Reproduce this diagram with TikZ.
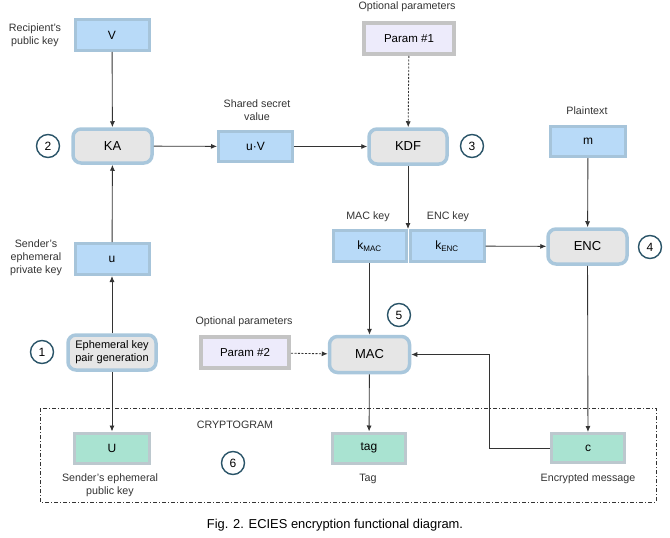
\documentclass[tikz,border=0pt]{standalone}
\usepackage{fontspec}
\setmainfont{Liberation Sans}
\usetikzlibrary{arrows.meta}
\definecolor{bluefill}{HTML}{B8DAF8}
\definecolor{blueborder}{HTML}{A6C4DA}
\definecolor{procfill}{HTML}{E6E6E6}
\definecolor{procborder}{HTML}{A9C7DC}
\definecolor{greenfill}{HTML}{A9E3D1}
\definecolor{greenborder}{HTML}{BCC8CE}
\definecolor{paramfill}{HTML}{EDEBFB}
\definecolor{paramborder}{HTML}{C4C4C4}
\definecolor{numcol}{HTML}{2A5468}
\definecolor{linecol}{HTML}{333333}
\definecolor{txtcol}{HTML}{333333}
\tikzset{
  bluebox/.style={draw=blueborder,fill=bluefill,line width=3pt,minimum width=74pt,minimum height=31pt,inner sep=0pt,font=\fontsize{12}{14}\selectfont},
  procbox/.style={draw=procborder,fill=procfill,line width=3.5pt,rounded corners=8pt,inner sep=0pt,font=\fontsize{13}{15}\selectfont,align=center},
  greenbox/.style={draw=greenborder,fill=greenfill,line width=3pt,minimum width=73pt,minimum height=30pt,inner sep=0pt,font=\fontsize{12}{14}\selectfont},
  parambox/.style={draw=paramborder,fill=paramfill,line width=4pt,minimum width=88pt,minimum height=31pt,inner sep=0pt,font=\fontsize{11.5}{14}\selectfont},
  numc/.style={circle,draw=numcol,line width=1.4pt,fill=white,minimum size=23pt,inner sep=0pt,font=\fontsize{12}{14}\selectfont},
  lbl/.style={align=center,text=txtcol,inner sep=0pt,font=\fontsize{10.7}{13}\selectfont},
  conn/.style={draw=linecol,line width=0.85pt,-{Latex[length=6pt,width=5pt]}},
}
\begin{document}
\begin{tikzpicture}[x=1pt,y=-1pt]
\useasboundingbox (0,0) rectangle (670,538);
% frame
\draw[linecol,line width=0.8pt,dash pattern=on 4pt off 2pt on 1pt off 2pt] (40,408) rectangle (656,502);
% nodes
\node[bluebox] (V) at (112,35) {V};
\node[procbox,minimum width=79pt,minimum height=34pt] (KA) at (112.5,146) {KA};
\node[bluebox,minimum height=30pt] (uV) at (255.5,146.5) {u·V};
\node[bluebox] (u) at (112,259) {u};
\node[procbox,minimum width=78pt,minimum height=35pt] (KDF) at (408,146.5) {KDF};
\node[parambox,minimum width=90pt] (P1) at (409,38.5) {Param \#1};
\node[bluebox,minimum width=75pt,minimum height=30pt] (m) at (588,141.5) {m};
\node[bluebox,minimum width=73pt] (kMAC) at (369.5,246) {k\textsubscript{MAC}};
\node[bluebox,minimum width=74pt] (kENC) at (447,246) {k\textsubscript{ENC}};
\node[procbox,minimum width=79pt,minimum height=35pt] (ENC) at (587.5,246.5) {ENC};
\node[procbox,minimum width=80pt,minimum height=36pt] (MAC) at (369.5,354.5) {MAC};
\node[greenbox] (tag) at (369,448) {tag};
\node[greenbox,minimum height=29pt] (c) at (588,448) {c};
\node[parambox] (P2) at (245,352.5) {Param \#2};
\node[procbox,minimum width=88pt,minimum height=35pt,font=\fontsize{11}{12.7}\selectfont] (Eph) at (112,352.5) {Ephemeral key\\pair generation};
\node[greenbox,minimum width=75pt] (U) at (112,448) {U};
% numbers
\node[numc] (n2) at (48,146) {2};
\node[numc] (n3) at (472,146) {3};
\node[numc] (n4) at (650,247) {4};
\node[numc] (n5) at (399,315) {5};
\node[numc] (n1) at (42,352) {1};
\node[numc] (n6) at (233,463) {6};
% labels
\node[lbl] (l1) at (35,35) {Recipient's\\public key};
\node[lbl] (l2) at (257,110) {Shared secret\\value};
\node[lbl] (l3) at (36,258) {Sender's\\ephemeral\\private key};
\node[lbl] (l4) at (407,7) {Optional parameters};
\node[lbl] (l5) at (587,111) {Plaintext};
\node[lbl] (l6) at (368,217) {MAC key};
\node[lbl] (l7) at (448,217) {ENC key};
\node[lbl] (l8) at (244,322) {Optional parameters};
\node[lbl] (l9) at (235,425) {CRYPTOGRAM};
\node[lbl] (l10) at (110,485) {Sender's ephemeral\\public key};
\node[lbl] (l11) at (368,479) {Tag};
\node[lbl] (l12) at (588,479) {Encrypted message};
\node[inner sep=0pt,font=\fontsize{12.9}{15}\selectfont] (cap) at (335,525) {Fig. 2. ECIES encryption functional diagram.};
% connectors
\draw[conn] (V) -- (KA);
\draw[conn] (u) -- (KA);
\draw[conn] (Eph) -- (u);
\draw[conn] (Eph) -- (U);
\draw[conn] (KA) -- (uV);
\draw[conn] (uV) -- (KDF);
\draw[conn,dash pattern=on 2pt off 1.5pt] (P1) -- (KDF);
\draw[conn] (KDF.south) -- (KDF.south |- kMAC.north);
\draw[conn] (kENC) -- (ENC);
\draw[conn] (m) -- (ENC);
\draw[conn] (ENC) -- (c);
\draw[conn] (kMAC) -- (MAC);
\draw[conn] (MAC) -- (tag);
\coordinate (cb) at (489,448);
\draw[conn] (c.west) -- (cb) |- (MAC.east);
\draw[conn,dash pattern=on 2pt off 1.5pt] (P2) -- (MAC);
\end{tikzpicture}
\end{document}
